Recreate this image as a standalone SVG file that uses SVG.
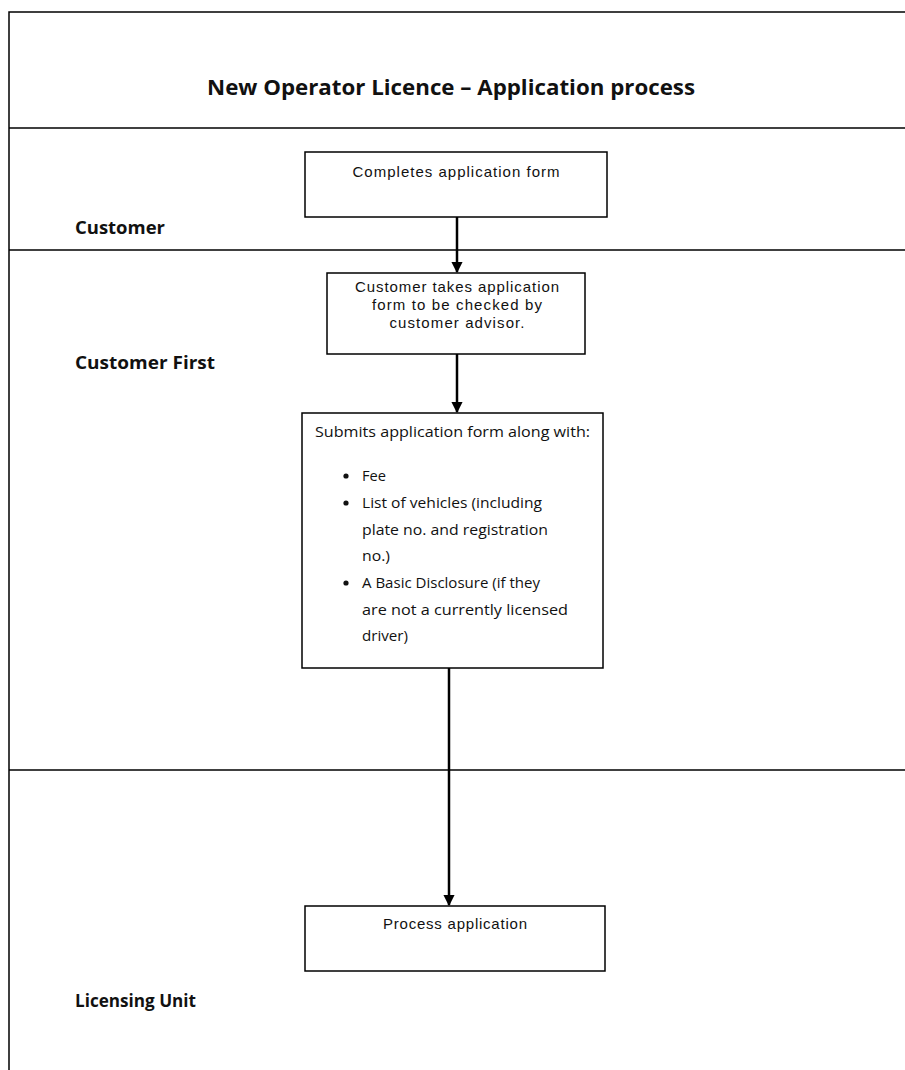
<svg xmlns="http://www.w3.org/2000/svg" width="905" height="1070" viewBox="0 0 905 1070">
<style>
.lane{stroke:#000;stroke-width:1.5;fill:none}
.box{fill:#fff;stroke:#000;stroke-width:1.5}
.arial{font-family:"Liberation Sans",Arial,sans-serif;font-size:15px;fill:#111}
.cal{font-family:"Open Sans","Noto Sans",sans-serif;font-size:14px;fill:#111}
.lbl{font-family:"Open Sans","Noto Sans",sans-serif;font-size:17.5px;font-weight:bold;fill:#111}
.conn{stroke:#000;stroke-width:2.5;fill:none}
</style>
<defs>
<marker id="ah" viewBox="0 0 10 10" refX="9" refY="5" markerWidth="4.5" markerHeight="4.5" orient="auto" markerUnits="strokeWidth">
<path d="M0,0 L10,5 L0,10 z" fill="#000"/>
</marker>
</defs>
<rect width="905" height="1070" fill="#fff"/>
<g id="lanes">
<path class="lane" d="M9,1070 V12 H905"/>
<line class="lane" x1="9" y1="128" x2="905" y2="128"/>
<line class="lane" x1="9" y1="250" x2="905" y2="250"/>
<line class="lane" x1="9" y1="770" x2="905" y2="770"/>
<text class="lbl" x="451" y="95" text-anchor="middle" style="font-size:21px" textLength="488" lengthAdjust="spacingAndGlyphs">New Operator Licence – Application process</text>
<text class="lbl" x="75" y="234" textLength="90" lengthAdjust="spacingAndGlyphs">Customer</text>
<text class="lbl" x="75" y="369" textLength="140" lengthAdjust="spacingAndGlyphs">Customer First</text>
<text class="lbl" x="75" y="1007" textLength="121" lengthAdjust="spacingAndGlyphs">Licensing Unit</text>
</g>
<g id="connectors">
<line class="conn" x1="457" y1="217" x2="457" y2="272" marker-end="url(#ah)"/>
<line class="conn" x1="457" y1="354" x2="457" y2="412" marker-end="url(#ah)"/>
<line class="conn" x1="449" y1="668" x2="449" y2="905" marker-end="url(#ah)"/>
</g>
<g id="n1">
<rect class="box" x="305" y="152" width="302" height="65"/>
<text class="arial" x="456" y="177" text-anchor="middle" textLength="207" lengthAdjust="spacing">Completes application form</text>
</g>
<g id="n2">
<rect class="box" x="327" y="273" width="258" height="81"/>
<text class="arial" x="457" y="292" text-anchor="middle" textLength="204" lengthAdjust="spacing">Customer takes application</text>
<text class="arial" x="457" y="310" text-anchor="middle" textLength="170" lengthAdjust="spacing">form to be checked by</text>
<text class="arial" x="457" y="328" text-anchor="middle" textLength="135" lengthAdjust="spacing">customer advisor.</text>
</g>
<g id="n3">
<rect class="box" x="302" y="413" width="301" height="255"/>
<text class="cal" x="315" y="437" textLength="275" lengthAdjust="spacingAndGlyphs">Submits application form along with:</text>
<circle cx="346" cy="476" r="2.6" fill="#111"/>
<circle cx="346" cy="503" r="2.6" fill="#111"/>
<circle cx="346" cy="583" r="2.6" fill="#111"/>
<text class="cal" x="362" y="481" textLength="24" lengthAdjust="spacingAndGlyphs">Fee</text>
<text class="cal" x="362" y="508" textLength="180" lengthAdjust="spacingAndGlyphs">List of vehicles (including</text>
<text class="cal" x="362" y="535" textLength="186" lengthAdjust="spacingAndGlyphs">plate no. and registration</text>
<text class="cal" x="362" y="561" textLength="28" lengthAdjust="spacingAndGlyphs">no.)</text>
<text class="cal" x="362" y="588" textLength="178" lengthAdjust="spacingAndGlyphs">A Basic Disclosure (if they</text>
<text class="cal" x="362" y="615" textLength="206" lengthAdjust="spacingAndGlyphs">are not a currently licensed</text>
<text class="cal" x="362" y="641" textLength="46" lengthAdjust="spacingAndGlyphs">driver)</text>
</g>
<g id="n4">
<rect class="box" x="305" y="906" width="300" height="65"/>
<text class="arial" x="455" y="929" text-anchor="middle" textLength="144" lengthAdjust="spacing">Process application</text>
</g>
</svg>
